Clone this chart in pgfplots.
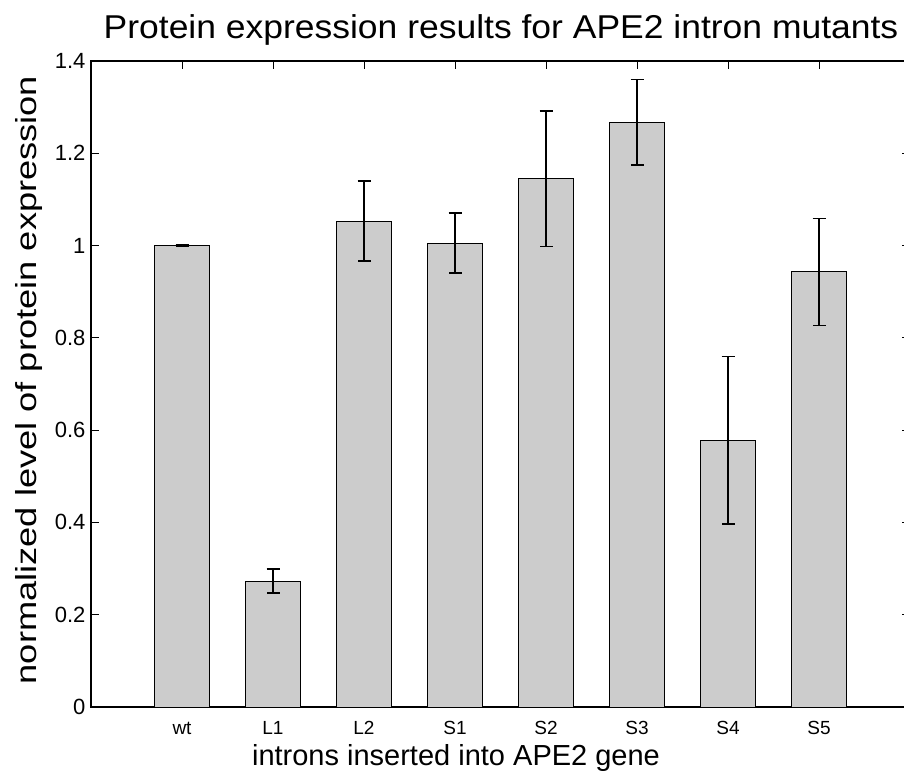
\documentclass[border=0pt]{standalone}
\usepackage{fontspec}
\setmainfont{Liberation Sans}
\usepackage{pgfplots}
\pgfplotsset{compat=1.18}

\definecolor{barfill}{RGB}{204,204,204}

\begin{document}
\begin{tikzpicture}[x=1pt,y=1pt]
\useasboundingbox (0,0) rectangle (904,773);
\begin{axis}[
  at={(91pt,66pt)}, anchor=south west,
  scale only axis,
  width=819pt, height=646pt,
  xmin=0, xmax=9, ymin=0, ymax=1.4,
  xtick={1,2,3,4,5,6,7,8},
  xticklabels={wt,L1,L2,S1,S2,S3,S4,S5},
  ytick={0,0.2,0.4,0.6,0.8,1,1.2,1.4},
  yticklabels={0,0.2,0.4,0.6,0.8,1,1.2,1.4},
  tick align=inside,
  major tick length=8pt,
  xtick pos=right,
  xticklabel pos=left,
  ytick pos=both,
  yticklabel pos=left,
  x tick label style={font=\fontsize{19}{21}\selectfont, anchor=base, yshift=-27pt},
  y tick label style={font=\fontsize{22}{26}\selectfont, xshift=-2pt},
  axis line style={line width=1.2pt},
  every tick/.style={black, line width=0.8pt},
  /pgf/number format/assume math mode=true,
  clip=false,
]
\addplot[ybar, bar width=0.6, fill=barfill, draw=black, line width=0.9pt,
  error bars/.cd, y dir=both, y explicit,
  error bar style={line width=1.6pt},
  error mark options={rotate=90, mark size=6.5pt, line width=1.6pt}]
  coordinates {
    (1,1.000) +- (0,0.002)
    (2,0.273) +- (0,0.026)
    (3,1.053) +- (0,0.087)
    (4,1.005) +- (0,0.065)
    (5,1.145) +- (0,0.147)
    (6,1.267) +- (0,0.093)
    (7,0.578) +- (0,0.182)
    (8,0.943) +- (0,0.116)
  };
\end{axis}
\node[anchor=base, font=\fontsize{33}{40}\selectfont] at (501,734)
  {\scalebox{1.075}[1]{Protein expression results for APE2 intron mutants}};
\node[anchor=base, font=\fontsize{29}{34}\selectfont] at (456,8)
  {introns inserted into APE2 gene};
\node[anchor=base, rotate=90, font=\fontsize{29}{34}\selectfont] at (36,393)
  {\scalebox{1.25}[1]{normalized level of protein expression}};
\end{tikzpicture}
\end{document}
